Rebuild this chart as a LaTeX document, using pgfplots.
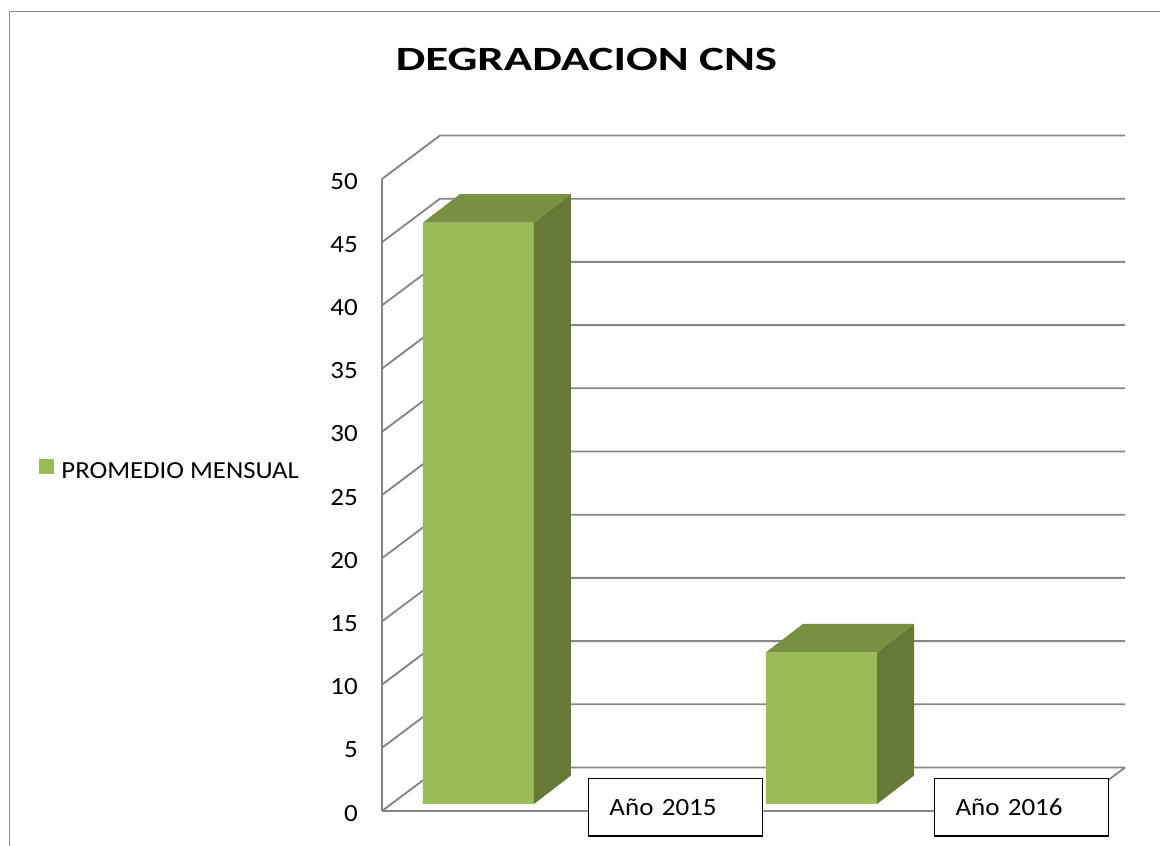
\documentclass[border=0pt]{standalone}
\usepackage{pgfplots}
\pgfplotsset{compat=1.18}
\usepackage{fontspec}
\setmainfont{Carlito}[FakeStretch=1.09]
\newfontfamily\titlefont{Carlito}[FakeStretch=1.38]
\definecolor{gridc}{RGB}{134,134,134}
\definecolor{framec}{RGB}{137,137,137}
\definecolor{barfront}{RGB}{155,187,89}
\definecolor{bartop}{RGB}{119,144,66}
\definecolor{barside}{RGB}{100,122,54}
\begin{document}
\begin{tikzpicture}
\begin{axis}[
  x=0.75pt, y=9.48pt,
  xmin=382, xmax=1125, ymin=0, ymax=50,
  clip=false,
  axis on top,
  axis line style={draw=none},
  major tick length=0pt,
  tick style={draw=none},
  ytick={0,5,...,50},
  xtick={675.5,1021.5},
  xticklabels={Año 2015, Año 2016},
  /pgf/number format/assume math mode=true,
  tick label style={font=\fontsize{18.6}{22}\selectfont},
  yticklabel style={anchor=east, inner xsep=0pt, xshift=-18pt, yshift=-1.6pt},
  xticklabel style={anchor=center, draw=black, line width=0.9pt, fill=white,
     minimum height=43pt, inner xsep=15.75pt, text width=99pt, align=left, yshift=2.7pt},
  legend style={at={(-0.4616,0.538)}, anchor=west, draw=none, fill=none,
     inner sep=0pt, outer sep=0pt, font=\fontsize{18.4}{22}\selectfont,
     legend cell align=left,
     /tikz/every odd column/.append style={column sep=3.6pt}},
]
% back wall gridlines + left wall
\addplot[gridc, line width=1.4pt, forget plot] coordinates {(382,0) (440,3.44) (1125,3.44)};
\addplot[gridc, line width=1.4pt, forget plot] coordinates {(382,5) (440,8.44) (1125,8.44)};
\addplot[gridc, line width=1.4pt, forget plot] coordinates {(382,10) (440,13.44) (1125,13.44)};
\addplot[gridc, line width=1.4pt, forget plot] coordinates {(382,15) (440,18.44) (1125,18.44)};
\addplot[gridc, line width=1.4pt, forget plot] coordinates {(382,20) (440,23.44) (1125,23.44)};
\addplot[gridc, line width=1.4pt, forget plot] coordinates {(382,25) (440,28.44) (1125,28.44)};
\addplot[gridc, line width=1.4pt, forget plot] coordinates {(382,30) (440,33.44) (1125,33.44)};
\addplot[gridc, line width=1.4pt, forget plot] coordinates {(382,35) (440,38.44) (1125,38.44)};
\addplot[gridc, line width=1.4pt, forget plot] coordinates {(382,40) (440,43.44) (1125,43.44)};
\addplot[gridc, line width=1.4pt, forget plot] coordinates {(382,45) (440,48.44) (1125,48.44)};
\addplot[gridc, line width=1.4pt, forget plot] coordinates {(382,50) (440,53.44) (1125,53.44)};
% front value axis and floor
\addplot[gridc, line width=1.4pt, forget plot] coordinates {(382,0) (382,50)};
\addplot[gridc, line width=1.4pt, forget plot] coordinates {(382,0) (1067,0) (1125,3.44)};
% bars: front faces
\addplot[ybar, bar width=83.25pt, fill=barfront, draw=none, yshift=5.25pt,
   legend image code/.code={\fill[barfront] (0pt,-7.6pt) rectangle (11.25pt,3.6pt);}]
   coordinates {(478.5,46) (821.5,12)};
\addlegendentry{PROMEDIO MENSUAL}
% side and top faces
\addplot[fill=barside, draw=none, yshift=5.25pt, forget plot] coordinates {(534,0) (571,2.25) (571,48.25) (534,46)};
\addplot[fill=bartop, draw=none, yshift=5.25pt, forget plot] coordinates {(423,46) (460,48.25) (571,48.25) (534,46)};
\addplot[fill=barside, draw=none, yshift=5.25pt, forget plot] coordinates {(877,0) (914,2.25) (914,14.25) (877,12)};
\addplot[fill=bartop, draw=none, yshift=5.25pt, forget plot] coordinates {(766,12) (803,14.25) (914,14.25) (877,12)};
% title and frame
\node[anchor=base, font=\titlefont\bfseries\fontsize{25.5}{30}\selectfont] at (axis cs:586.5,58.62) {DEGRADACION CNS};
\draw[framec, line width=1.1pt] (axis cs:9.5,-10) -- (axis cs:9.5,63.24) -- (axis cs:1200,63.24);
\coordinate (bbtl) at (axis cs:0,64.16);
\coordinate (bbbr) at (axis cs:1160,-2.769);
\end{axis}
\pgfresetboundingbox
\path[use as bounding box] (bbtl) rectangle (bbbr);
\end{tikzpicture}
\end{document}
